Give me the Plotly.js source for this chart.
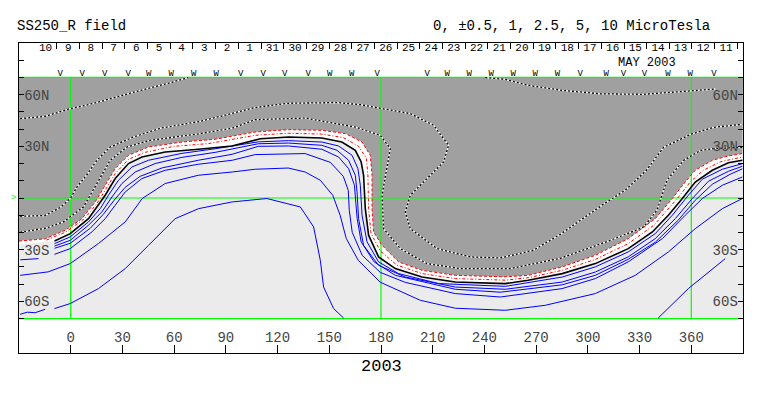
<!DOCTYPE html>
<html><head><meta charset="utf-8">
<script src="https://cdn.plot.ly/plotly-3.0.1.min.js"></script>
<style>html,body{margin:0;padding:0;background:#fff}</style>
</head><body><div id="chart" style="width:763px;height:396px"></div>
<script>
// ---- axes ----
const lonTicks = [0,30,60,90,120,150,180,210,240,270,300,330,360];
const latTicks = [-80,-70,-60,-50,-40,-30,-20,-10,0,10,20,30,40,50,60,70,80];
const latTickText = ['','','60S','','','30S','','','','','','30N','','','60N','',''];
const mapLonEdges = [-30, 390];
const mapLatEdges = [-70, 70];
const gridLon = [0, 180, 360];
const gridLat = [-70, 0, 70];

// ---- Carrington day strip ----
const dayStart = [-21.2,-8.0,5.1,18.3,31.4,44.6,57.8,70.9,84.1,97.2,110.4,123.6,136.7,149.9,163.0,176.2,189.4,202.5,215.7,228.8,242.0,255.2,268.3,281.5,294.6,307.8,321.0,334.1,347.3,360.4,373.6,386.8];
const dayLabels = ['10','9','8','7','6','5','4','3','2','1','31','30','29','28','27','26','25','24','23','22','21','20','19','18','17','16','15','14','13','12','11'];
const obsLon = [-6.1,6.7,19.7,33.4,45.3,58.3,71.4,84.4,98.6,111.7,124.2,137.8,150.3,163.0,177.8,206.8,218.4,231.2,243.9,256.7,269.5,282.3,295.6,310.7,320.6,332.8,346.4,359.4,373.1];
const obsType = ['V','V','V','V','W','W','W','W','V','V','V','V','W','W','V','V','W','W','W','W','W','W','V','W','V','V','W','W','V'];

// ---- contours (longitude, latitude) ----
const neutralLon = [-9.4,-0.3,10.3,16.1,20.0,25.8,33.5,41.3,54.8,74.1,93.5,110.0,126.4,145.7,157.3,165.1,168.5,169.9,170.9,172.8,178.6,188.3,203.8,223.1,252.1,265.4,285.1,304.3,323.4,337.4,346.7,354.8,362.3,372.2,381.5,389.6];
const neutralLat = [-25.0,-20.7,-12.0,-4.2,1.6,11.3,20.0,23.8,26.7,28.3,30.2,34.4,35.4,34.8,32.5,27.7,20.9,13.2,-6.2,-21.6,-34.2,-41.0,-45.9,-48.8,-49.7,-47.8,-43.9,-38.1,-29.4,-19.7,-10.0,-0.3,9.3,16.1,20.5,21.9];

const negHalfOuterLon = [-30,-14.8,-3.2,6.5,14.2,20.0,25.8,33.5,45.1,64.5,83.8,107.0,126.4,145.7,159.3,169.0,173.8,174.8,174.8,175.7,180.6,190.2,203.8,223.1,252.1,265.4,285.1,304.3,323.4,339.1,349.0,356.5,362.3,372.2,381.5,389.6];
const negHalfOuterLat = [-25.0,-23.7,-18.7,-12.0,-2.3,7.4,17.1,24.8,29.6,32.5,34.1,38.3,39.7,39.3,37.4,32.5,24.8,13.2,-6.2,-19.7,-27.5,-37.1,-42.0,-44.9,-45.8,-44.9,-40.0,-33.3,-23.6,-12.0,-0.3,9.3,16.1,21.9,24.4,25.8];

const negHalfInnerLon = [-14,-3,8,15.2,20,25.8,33.5,43,60,80,107,126.4,145.7,158.3,167,171.5,172.4,172.8,174.2,179.6,189.3,203.8,223.1,252.1,265.4,285.1,304.3,323.4,338.3,351.9,359.4,367,376.8,385,389.6];
const negHalfInnerLat = [-24.4,-19.8,-12,-3.2,4.5,14.2,22.4,26.5,30,31.6,36.4,37.6,37.1,35,30,23,13.2,-6.2,-20.6,-30.8,-39,-43.9,-46.8,-47.7,-46.3,-42,-35.7,-26.5,-15.8,-0.3,9.3,16.1,21,22.8,23.8];
const bandLeftEdgeLon = [-30];
const bandLeftEdgeLat = [-27];

const pos1Lon = [-9.4,-0.3,10.3,17.1,21.9,27.7,35.5,45.1,64.5,83.8,108.8,126.4,145.7,155.4,163.2,166.6,168.0,169.0,171.9,178.6,190.2,213.4,252.1,285.1,304.3,323.4,339.1,349.0,358.3,366.4,378.0,389.6];
const pos1Lat = [-26.5,-22.6,-13.9,-6.2,1.6,10.3,18.0,21.9,25.9,28.6,32.6,33.3,32.5,30.2,24.8,17.1,7.4,-10.0,-25.5,-37.1,-43.9,-49.7,-51.3,-45.9,-40.0,-31.3,-20.7,-10.0,1.6,10.9,16.7,19.9];

const pos2Lon = [-9.4,-0.3,10.3,18.1,23.9,29.7,37.4,49.0,64.5,83.8,108.8,126.4,145.7,154.5,161.2,165.1,166.1,167.0,169.9,178.6,194.1,223.1,252.1,285.1,304.3,323.4,339.1,350.7,360.6,369.9,381.5,389.6];
const pos2Lat = [-27.9,-24.6,-15.8,-8.1,0.6,8.4,15.1,20.0,23.6,26.5,31.5,31.9,30.6,27.7,21.9,13.2,3.5,-12.0,-27.5,-39.1,-45.9,-51.7,-53.0,-48.8,-43.0,-34.2,-23.6,-12.0,-0.3,9.7,15.5,18.4];

const pos3Lon = [-9.4,-0.3,11.3,18.9,25.2,31.6,40.3,53.1,74.0,93.7,108.8,126.4,145.7,155.4,161.2,164.6,165.4,166.2,168.5,176.0,188.3,223.1,249.2,285.1,304.3,323.4,339.1,352.4,362.3,372.2,382.6,389.6];
const pos3Lat = [-29.2,-26.3,-17.6,-9.5,-1.3,6.2,12.6,17.5,21.9,25.4,30.0,30.2,28.3,23.8,17.1,7.4,-3,-12,-25.5,-37.1,-44.9,-53.0,-54.7,-50.4,-44.9,-35.6,-25.7,-12.9,-1.3,8.0,13.8,16.9];

const pos4Lon = [-9.4,-0.3,12.3,20.0,25.8,31.6,41.3,54.8,74.0,93.7,107.0,136.0,150.6,158.1,161.0,161.6,163.3,169.1,179.6,194.1,223.1,249.2,285.1,304.3,323.4,343.2,356.5,366.4,378.0,389.6];
const pos4Lat = [-32.7,-29.4,-19.7,-12.0,-4.2,3.5,11.3,16.1,19.6,21.9,25.2,25.8,20.7,12.6,4.5,-7.1,-19.9,-33.3,-43.2,-49.0,-55.5,-57.5,-52.6,-46.8,-37.1,-23.6,-10.0,-0.3,7.4,12.2];

const pos5Lon = [-29.3,-13.1,-0.3,16.0,31.6,41.5,54.8,74.0,93.7,107.0,126.2,136.0,144.8,152.0,156.3,159.8,166.8,179.6,202.8,223.1,252.1,275.3,304.3,327.5,346.7,362.3,378.0,389.6];
const pos5Lat = [-44.9,-42.9,-38.1,-26.5,-13.9,-0.3,8.4,13.2,15.1,16.7,17.4,15.1,10.3,1.6,-10.0,-23.4,-36.2,-48.9,-59.4,-64.0,-65.2,-62.3,-55.5,-44.9,-31.3,-17.8,-6.2,-0.3];

const pos6Lon = [-9.4,-0.3,16.1,31.6,45.1,60.6,74.1,93.5,113.8,133.2,140.9,144.8,146.7,152.5,158.3];
const pos6Lat = [-64.2,-61.3,-52.6,-41.0,-27.5,-12.0,-6.2,-2.3,-0.3,-5.2,-16.8,-36.2,-51.7,-64.2,-69.7];
const pos7Lon = [340.8,358.3,379.7];
const pos7Lat = [-69.7,-52.6,-35.2];
const edgeALon = [-29.3,-23.5,-18.7];
const edgeALat = [-35.9,-35.6,-35.2];
const edgeBLon = [-29.3,-25.2,-20.6,-14.8];
const edgeBLat = [-67.5,-66.3,-66.6,-64.6];

const neg1Lon = [-29.3,-14.8,-0.3,11.3,25.8,40.3,55.8,68.2];
const neg1Lat = [46.1,47.4,51.9,54.4,58.4,62.5,66.4,69.9];
const neg2Lon = [-29.3,-15,-6,0,3.6,9.4,15.2,22.9,36.4,51.9,75.1,93.7,107.0,126.2,155.2,168.0,179.6,197.0,210.5,219.2,216.3,206.7,197.0,194.1,197.0,212.5,231.8,249.2,268.3,284.0,295.6,308.9,321.7,334.0,343.9,359.6,372.9,389.6];
const neg2Lat = [-10.6,-10.2,-5.5,0,6.4,13.5,21.9,29.6,35.4,40.5,44.5,49.2,52.5,55.0,55.4,54.2,52.2,49.0,42.2,30.6,20.9,11.3,1.6,-8.1,-17.8,-29.4,-34.2,-34.8,-30.4,-21.1,-12.9,-3.7,4.5,16.1,29.4,37.0,41.0,42.8];
const neg3Lon = [-29.3,-14.8,-4.2,7.4,15.2,22.9,32.6,46.1,75.1,93.7,107.0,136.0,165.1,179.6,185.4,183.5,180.6,181.5,191.2,206.7,226.0,255.0,284.0,313.0,332.4,340.1,345.9,355.6,365.5,373.0,389.6];
const neg3Lat = [-19.9,-17.6,-13.9,-5.2,8.4,21.9,29.6,33.5,37.4,40.5,45.5,46.4,41.2,36.4,28.7,17.1,1.6,-17.8,-29.4,-38.1,-41.0,-41.0,-35.0,-24.6,-16.8,-7.1,10.3,21.9,27.7,28.7,29.4];
const neg4Lon = [240.5,252.1,265.4,285.1,307.2,332.2,358.3,373.9];
const neg4Lat = [69.9,68.9,65.4,62.5,60.5,60.2,62.1,63.3];

// ---- styles ----
const DARK = '#a0a0a0', LIGHT = '#ebebeb', GREEN = '#00ff00', BLUE = '#0000ff', RED = '#ff0000';
const MONO = 'Liberation Mono, DejaVu Sans Mono, monospace';

function line(x, y, color, width, dash) {
  return {type:'scatter', mode:'lines', x:x, y:y, line:{color:color, width:width, dash:dash||'solid'}, hoverinfo:'skip'};
}
function poly(x, y, color) {
  return {type:'scatter', mode:'lines', x:x, y:y, fill:'toself', fillcolor:color, line:{width:0, color:color}, hoverinfo:'skip'};
}
function dotted(x, y) {
  return [line(x, y, '#ffffff', 1.3), line(x, y, '#000000', 1.3, '2px,2px')];
}

const traces = [];
// map background (positive polarity)
traces.push(poly([mapLonEdges[0], mapLonEdges[1], mapLonEdges[1], mapLonEdges[0]],
                 [mapLatEdges[0], mapLatEdges[0], mapLatEdges[1], mapLatEdges[1]], LIGHT));
// negative polarity region
traces.push(poly([mapLonEdges[0]].concat(negHalfOuterLon, [mapLonEdges[1]]),
                 [mapLatEdges[1]].concat(negHalfOuterLat, [mapLatEdges[1]]), DARK));
// white band around neutral line
traces.push(poly(negHalfOuterLon.concat(neutralLon.slice().reverse(), bandLeftEdgeLon),
                 negHalfOuterLat.concat(neutralLat.slice().reverse(), bandLeftEdgeLat), '#ffffff'));
// green reference grid
const gx = [], gy = [];
gridLon.forEach(g => { gx.push(g, g, null); gy.push(mapLatEdges[0], mapLatEdges[1], null); });
gridLat.forEach(g => { gx.push(mapLonEdges[0], mapLonEdges[1], null); gy.push(g, g, null); });
traces.push(line(gx, gy, GREEN, 1.2));
// negative contours
[[neg1Lon,neg1Lat],[neg2Lon,neg2Lat],[neg3Lon,neg3Lat],[neg4Lon,neg4Lat]].forEach(p => traces.push(...dotted(p[0], p[1])));
// positive contours
[[pos1Lon,pos1Lat],[pos2Lon,pos2Lat],[pos3Lon,pos3Lat],[pos4Lon,pos4Lat],[pos5Lon,pos5Lat],[pos6Lon,pos6Lat],[pos7Lon,pos7Lat],[edgeALon,edgeALat],[edgeBLon,edgeBLat]]
  .forEach(p => traces.push(line(p[0], p[1], BLUE, 1)));
// half-level lines and neutral line
traces.push(line(negHalfOuterLon, negHalfOuterLat, RED, 1, '3px,2px'));
traces.push(line(negHalfInnerLon, negHalfInnerLat, RED, 1, '3px,2px,1px,2px'));
traces.push(line(neutralLon, neutralLat, '#000000', 1.6));

// day labels (top strip)
const dayMid = dayLabels.map((d, i) => (dayStart[i] + dayStart[i + 1]) / 2);
traces.push({type:'scatter', mode:'text', x:dayMid, y:dayLabels.map(() => 86.9), text:dayLabels,
  textfont:{family:MONO, size:11, color:'#000'}, xaxis:'x2', yaxis:'y', hoverinfo:'skip', cliponaxis:false});
// observation markers
traces.push({type:'scatter', mode:'text', x:obsLon, y:obsType.map(() => 72.0), text:obsType,
  textfont:{family:MONO, size:9, color:'#000'}, xaxis:'x', yaxis:'y2', hoverinfo:'skip', cliponaxis:false});

const layout = {
  width:763, height:396,
  margin:{l:19, r:20, t:43, b:43, pad:0},
  paper_bgcolor:'#ffffff', plot_bgcolor:'#ffffff',
  showlegend:false, hovermode:false,
  font:{family:MONO, size:13, color:'#000'},
  xaxis:{range:[-30,390], tickvals:lonTicks, ticktext:lonTicks.map(String), ticks:'inside', ticklen:8, tickcolor:'#000',
         ticklabelposition:'inside', tickfont:{family:MONO, size:14}, showline:true, linecolor:'#000', linewidth:1,
         mirror:true, showgrid:false, zeroline:false, fixedrange:true},
  xaxis2:{range:[-30,390], overlaying:'x', side:'top', tickvals:dayStart, ticks:'inside', ticklen:6, tickcolor:'#000',
          showticklabels:false, showline:false, showgrid:false, zeroline:false, fixedrange:true},
  yaxis:{range:[-90,90], tickvals:latTicks, ticktext:latTickText, ticks:'inside', ticklen:5, tickcolor:'#000',
         ticklabelposition:'inside', tickfont:{family:MONO, size:14}, showline:true, linecolor:'#000', linewidth:1,
         mirror:true, showgrid:false, zeroline:false, fixedrange:true},
  yaxis2:{range:[-90,90], overlaying:'y', side:'right', tickvals:latTicks, ticktext:latTickText, ticks:'inside', ticklen:5,
          tickcolor:'#000', ticklabelposition:'inside', tickfont:{family:MONO, size:14}, showline:false,
          showgrid:false, zeroline:false, fixedrange:true},
  annotations:[
    {xref:'paper', yref:'paper', x:-0.0055, y:1.055, xanchor:'left', yanchor:'middle', showarrow:false,
     text:'SS250_R field', font:{family:MONO, size:14}},
    {xref:'paper', yref:'paper', x:0.957, y:1.055, xanchor:'right', yanchor:'middle', showarrow:false,
     text:'0, \u00b10.5, 1, 2.5, 5, 10 MicroTesla', font:{family:MONO, size:14}},
    {xref:'x', yref:'y', x:334.3, y:78.6, xanchor:'center', yanchor:'middle', showarrow:false,
     text:'MAY 2003', font:{family:MONO, size:12}},
    {xref:'paper', yref:'paper', x:0.5, y:-0.045, xanchor:'center', yanchor:'middle', showarrow:false,
     text:'2003', font:{family:MONO, size:17}},
    {xref:'x', yref:'y', x:-30, y:0, xanchor:'right', yanchor:'middle', xshift:-1, showarrow:false,
     text:'>', font:{family:MONO, size:9, color:GREEN}}
  ]
};

Plotly.newPlot('chart', traces, layout, {staticPlot:true, displayModeBar:false});
</script>
</body></html>
